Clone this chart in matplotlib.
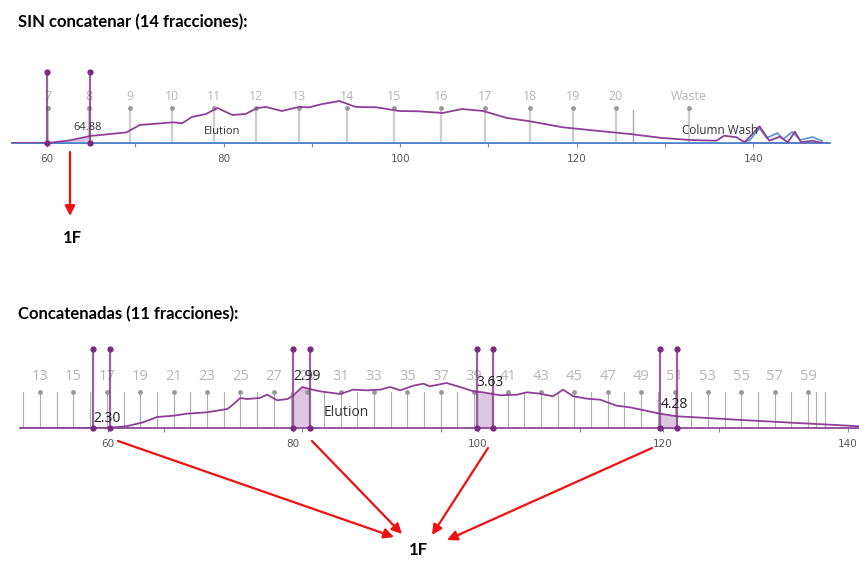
import matplotlib
matplotlib.use("Agg")
import matplotlib.pyplot as plt
import numpy as np

# ---- data (time in min, signal in arbitrary mAU) ----
top_t = [56.0, 60.0, 62.5, 64.9, 69.0, 70.5, 74.3, 75.3, 76.4, 78.0, 79.3, 81.0, 82.5,
         83.8, 84.8, 86.6, 88.5, 89.7, 91.2, 93.1, 95.0, 97.3, 99.9, 102.1, 104.8,
         107.0, 109.4, 112.1, 114.7, 118.4, 122.2, 126.0, 129.7, 132.8, 135.8, 136.7,
         138.1, 139.0, 140.7, 141.8, 143.0, 143.9, 144.7, 145.4, 146.7, 147.8]
top_uv = [0.0, 0.0, 2.5, 7.0, 10.6, 18.0, 20.7, 19.7, 26.0, 29.0, 35.0, 28.0, 29.0,
          35.0, 36.0, 32.0, 36.0, 35.7, 39.0, 42.0, 36.0, 35.7, 32.0, 31.7, 30.0,
          34.0, 32.0, 25.0, 21.7, 15.7, 12.3, 9.0, 5.0, 3.0, 2.3, 7.3,
          5.7, 0.7, 16.7, 2.3, 6.3, 0.7, 11.3, 0.7, 2.3, 0.0]
cond_t = [56.0, 138.5, 139.6, 140.7, 141.5, 142.7, 143.4, 144.4, 145.3, 146.7, 147.8]
cond_v = [0.0, 0.0, 3.0, 15.0, 5.0, 10.0, 4.0, 11.0, 3.0, 6.0, 2.0]

top_frac_labels = ["7", "8", "9", "10", "11", "12", "13", "14", "15", "16", "17",
                   "18", "19", "20", "Waste"]
top_frac_t = [60.1, 64.8, 69.4, 74.2, 78.9, 83.7, 88.5, 94.0, 99.3, 104.6, 109.6,
              114.7, 119.6, 124.4, 132.7]
top_frac_end = 126.4
top_pool = (60.0, 64.88)
top_pool_label = "64.88"

bot_t = [50.5, 58.0, 60.2, 62.0, 63.8, 65.3, 67.1, 68.5, 70.7, 72.9, 73.5, 74.3, 75.0,
         76.4, 77.2, 78.3, 79.4, 80.0, 81.0, 81.8, 82.9, 84.3, 85.1, 86.5, 88.0, 89.4,
         90.5, 91.6, 93.0, 94.1, 94.8, 96.6, 98.4, 99.5, 100.5, 102.4, 104.2, 105.3,
         106.7, 108.1, 109.2, 110.3, 111.8, 113.2, 115.0, 116.4, 119.7, 121.5, 124.8,
         129.1, 134.5, 138.1, 141.2]
bot_uv = [0.0, 0.0, 0.3, 1.7, 5.7, 11.0, 12.3, 14.3, 15.7, 19.0, 23.3, 30.0, 29.0,
          30.0, 33.3, 27.7, 29.0, 32.3, 41.0, 39.0, 36.7, 35.0, 34.0, 38.3, 37.7, 38.3,
          41.0, 37.7, 42.3, 44.3, 41.7, 45.0, 40.0, 36.7, 35.7, 32.7, 33.3, 35.7,
          34.3, 31.7, 38.3, 31.7, 29.3, 28.3, 22.3, 20.7, 14.3, 11.7, 10.0,
          7.7, 5.0, 3.3, 1.7]
bot_frac_first, bot_frac_last = 12, 60
bot_frac_t0 = 50.85          # time of fraction 12 mark
bot_frac_step = 1.805        # min per fraction
bot_frac_end = 136.5
bot_pools = [(58.4, 60.2), (80.0, 81.8), (99.9, 101.6), (119.7, 121.5)]
bot_pool_labels = ["2.30", "2.99", "3.63", "4.28"]
bot_pool_label_y = [10, 52, 45, 23]
bot_minor = [66, 81, 96, 111, 126]

W, H = 859, 563
PURPLE = "#8f3f97"
MARK = "#7a2a82"
SHADE = "#dcc6e0"
GREY_TXT = "#b5b5b5"
GREY_LN = "#cfcfcf"
RED = "#f01010"


def box(l, t, r, b):
    # axes rectangle from pixel edges (top-left origin)
    return [l / W, 1 - b / H, (r - l) / W, (b - t) / H]


fig = plt.figure(figsize=(W / 100, H / 100), dpi=100)
fig.patch.set_facecolor("white")


def style_axis(ax, spine_color):
    for s in ["top", "left", "right"]:
        ax.spines[s].set_visible(False)
    ax.spines["bottom"].set_color(spine_color)
    ax.spines["bottom"].set_linewidth(1.3)
    ax.set_yticks([])
    ax.tick_params(axis="x", which="both", length=3, color="#8a8a8a", width=0.8,
                   labelsize=7.5, labelcolor="#5a5a5a", pad=5)
    ax.patch.set_alpha(0)


def shade_pool(ax, t, uv, a, b):
    t = np.asarray(t); uv = np.asarray(uv)
    inside = (t > a) & (t < b)
    xs = np.concatenate([[a], t[inside], [b]])
    ys = np.concatenate([[np.interp(a, t, uv)], uv[inside], [np.interp(b, t, uv)]])
    ax.fill_between(xs, 0, ys, color=SHADE, lw=0, zorder=1)


def pool_marker(ax, x, top):
    ax.plot([x, x], [0, top], color=MARK, lw=1.6, alpha=0.75, zorder=4, clip_on=False)
    ax.plot([x, x], [0, top], "o", color=MARK, ms=3.5, zorder=5, clip_on=False)


# ---------------- top chromatogram ----------------
ax1 = fig.add_axes(box(12, 66, 830, 143))
style_axis(ax1, "#4472c4")
ax1.set_xlim(60 - 35 / 8.83, 60 + 783 / 8.83)
ax1.set_ylim(0, 77)
ax1.set_xticks([60, 80, 100, 120, 140])
ax1.set_xticks([70, 90, 110, 130], minor=True)

for lab, t in zip(top_frac_labels, top_frac_t):
    ax1.plot([t, t], [0, 35], color=GREY_LN, lw=1.6, zorder=1)
    ax1.plot(t, 35, "o", color="#9a9a9a", ms=2.5, zorder=2)
    ax1.text(t, 46, lab, ha="center", va="center", fontsize=9, color=GREY_TXT,
             family="Open Sans")
ax1.plot([top_frac_end, top_frac_end], [0, 33], color="#a8a8a8", lw=1.0, zorder=1)

shade_pool(ax1, top_t, top_uv, *top_pool)
ax1.plot(cond_t, cond_v, color="#5b9bd5", lw=1.3, zorder=3)
ax1.plot(top_t, top_uv, color=PURPLE, lw=1.3, zorder=3)
for x in top_pool:
    pool_marker(ax1, x, 71)
ax1.text(top_pool[1] - 0.3, 16, top_pool_label, ha="center", va="center",
         fontsize=8, color="#333333", family="Open Sans", zorder=6)
ax1.text(79.8, 12, "Elution", ha="center", va="center", fontsize=8,
         color="#333333", family="Open Sans")
ax1.text(136.2, 13, "Column Wash", ha="center", va="center", fontsize=8.5,
         color="#333333", family="Open Sans", zorder=6)

# ---------------- bottom chromatogram ----------------
ax2 = fig.add_axes(box(20, 340, 859, 428))
style_axis(ax2, "#8a4a96")
ax2.set_xlim(60 - 88 / 9.25, 60 + 751 / 9.25)
ax2.set_ylim(0, 88)
ax2.set_xticks([60, 80, 100, 120, 140])
ax2.set_xticks(bot_minor, minor=True)

for n in range(bot_frac_first, bot_frac_last + 1):
    t = bot_frac_t0 + (n - bot_frac_first) * bot_frac_step
    ax2.plot([t, t], [0, 36], color="#b0b0b0", lw=0.8, zorder=1)
    if n % 2 == 1:
        ax2.plot(t, 36, "o", color="#9a9a9a", ms=2.5, zorder=2)
        ax2.text(t, 52, str(n), ha="center", va="center", fontsize=10.5,
                 color=GREY_TXT, family="Open Sans")
ax2.plot([bot_frac_end, bot_frac_end], [0, 36], color="#b0b0b0", lw=0.8, zorder=1)

for a, b in bot_pools:
    shade_pool(ax2, bot_t, bot_uv, a, b)
ax2.plot(bot_t, bot_uv, color=PURPLE, lw=1.3, zorder=3)
for (a, b), lab, ly in zip(bot_pools, bot_pool_labels, bot_pool_label_y):
    pool_marker(ax2, a, 79)
    pool_marker(ax2, b, 79)
    ax2.text(b - 0.3, ly, lab, ha="center", va="center", fontsize=10,
             color="#222222", family="Open Sans", zorder=6)
ax2.text(85.8, 15, "Elution", ha="center", va="center", fontsize=10,
         color="#333333", family="Open Sans")

# ---------------- titles, arrows, 1F labels ----------------
def fp(x, y):
    return (x / W, 1 - y / H)


fig.text(*fp(18, 22), "SIN concatenar (14 fracciones):", fontsize=12,
         fontweight="bold", family="Lato", va="center", ha="left")
fig.text(*fp(18, 314), "Concatenadas (11 fracciones):", fontsize=12,
         fontweight="bold", family="Lato", va="center", ha="left")
fig.text(*fp(72, 238), "1F", fontsize=12, fontweight="bold", family="Lato",
         va="center", ha="center")
fig.text(*fp(418, 550), "1F", fontsize=12, fontweight="bold", family="Lato",
         va="center", ha="center")

arrows = [((70, 152), (70, 216)),
          ((118, 441), (394, 537)),
          ((312, 441), (402, 534)),
          ((488, 448), (432, 535)),
          ((652, 448), (447, 540))]
for (x0, y0), (x1, y1) in arrows:
    fig.add_artist(matplotlib.patches.FancyArrowPatch(
        fp(x0, y0), fp(x1, y1), transform=fig.transFigure,
        arrowstyle="-|>,head_length=6,head_width=3", color=RED, lw=1.6,
        shrinkA=0, shrinkB=0))

fig.savefig("out.png", dpi=100)
